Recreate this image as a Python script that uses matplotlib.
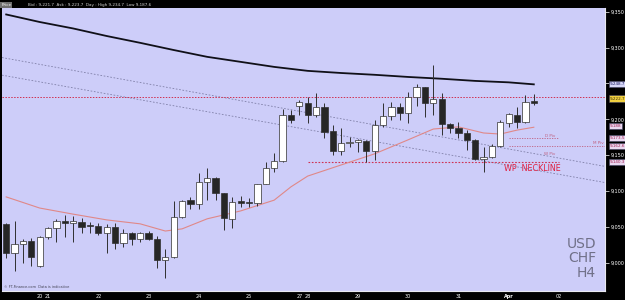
#!/usr/bin/env python3

import matplotlib
matplotlib.use("Agg")
from matplotlib import pyplot as plt
from matplotlib import ticker
from matplotlib.transforms import blended_transform_factory

# H4 candles, USD/CHF (price shown x10000)
opens = [9054, 9014, 9026.5, 9030.5, 8996, 9036, 9048.5, 9058.5, 9055.5, 9057,
         9052.5, 9051.5, 9042, 9050, 9028, 9042, 9033.5, 9042, 9033.5, 9004,
         9008.5, 9064, 9087.5, 9082, 9113, 9118.5, 9097.5, 9061.5, 9086.5, 9085,
         9083.5, 9110, 9132.5, 9142, 9206, 9218.5, 9223, 9206, 9217.5, 9184,
         9156, 9167, 9168.5, 9170, 9156, 9192, 9204.5, 9217.5, 9209, 9231,
         9245, 9223, 9228.5, 9193.5, 9188, 9181, 9171.5, 9145, 9147.5, 9163,
         9195, 9206, 9196.5, 9225.5]
highs = [9056, 9058.5, 9033.5, 9035, 9037.5, 9050, 9061.5, 9067, 9065.5, 9062.5,
         9057, 9055.5, 9054.5, 9055.5, 9047.5, 9043, 9043, 9044.5, 9037.5, 9019.5,
         9086.5, 9087.5, 9092, 9125.5, 9132.5, 9120, 9097.5, 9092, 9093.5, 9090,
         9110, 9140.5, 9153, 9214.5, 9213, 9227, 9231, 9237, 9223, 9192,
         9188, 9175.5, 9172.5, 9171.5, 9199, 9223, 9224, 9223, 9238, 9249.5,
         9245.5, 9275.5, 9237, 9195, 9196.5, 9185, 9172.5, 9161.5, 9165.5, 9199,
         9209, 9217.5, 9234, 9234.7]
lows = [9007, 8989, 9000, 8996, 8994.5, 9033.5, 9029, 9036, 9029, 9042,
        9042, 9039, 9014, 9019.5, 9022.5, 9025, 9029, 9032, 8993, 8979,
        9007, 9062.5, 9075, 9075, 9087.5, 9087.5, 9046, 9048.5, 9078, 9078.5,
        9079.5, 9110, 9126.5, 9140.5, 9195, 9206, 9195, 9203.5, 9174, 9150.5,
        9150.5, 9161.5, 9154.5, 9140.5, 9143.5, 9189.5, 9199, 9199, 9195, 9218.5,
        9203.5, 9206, 9178.5, 9181, 9174, 9157.5, 9143.5, 9126.5, 9146, 9161.5,
        9189.5, 9188, 9195, 9220]
closes = [9014, 9026.5, 9030.5, 9008.5, 9036, 9048.5, 9058.5, 9055.5, 9058.5, 9050,
          9051.5, 9042, 9050, 9028, 9042, 9033.5, 9042, 9033.5, 9004, 9008.5,
          9064, 9086.5, 9082, 9113, 9118.5, 9097.5, 9062.5, 9085, 9083.5, 9083.5,
          9110, 9132.5, 9142, 9206, 9199, 9223.5, 9206, 9217.5, 9182.5, 9156,
          9167, 9168.5, 9171.5, 9156, 9192, 9204.5, 9217.5, 9209, 9231, 9245,
          9223, 9228.5, 9193.5, 9188, 9181, 9171.5, 9145, 9147.5, 9163, 9196.5,
          9207.5, 9196.5, 9224, 9222.7]

# moving averages, sampled at candle indices
ma200_idx = [0, 4, 8, 12, 16, 20, 24, 28, 32, 36, 40, 44, 48, 52, 56, 60, 63]
ma200_val = [9346, 9335.5, 9326.5, 9316, 9306.5, 9296.5, 9287, 9280, 9273, 9267.5,
             9264.5, 9262, 9259, 9256.5, 9253.5, 9251.5, 9248.7]
ma20_idx = [0, 4, 8, 12, 16, 19, 21, 24, 28, 32, 34, 36, 40, 44, 48, 51, 54, 57, 59, 61, 63]
ma20_val = [9092, 9076.5, 9068, 9060, 9054.5, 9044.5, 9047.5, 9061.5, 9072.5, 9087.5,
            9106, 9121, 9136.5, 9152, 9171.5, 9186.5, 9189.5, 9181, 9179.5, 9185, 9189]

# trend channel (start/end index, price)
chan_x = [-0.5, 71.5]
chan_upper = [9286, 9134.5]
chan_lower = [9261.5, 9112]

resist_level = 9230.5
neckline = 9140.5
d_piv = 9173.5
m_piv = 9162.6

xtick_pos = [4, 5, 11, 17, 23, 29, 35, 36, 42, 48, 54, 60, 66]
xtick_lab = ["20", "21", "22", "23", "24", "25", "27", "28", "29", "30", "31", "Apr", "02"]

price_boxes = [(9248.7, "9,248.7", "#1a1a60", "#d8d8f8"),
               (9229.0, "9,222.7", "#3a2a00", "#f0d040"),
               (9191.0, "9,188", "#a02050", "#ead8f0"),
               (9173.5, "9,173.5", "#a02050", "#ead8f0"),
               (9162.6, "9,162.6", "#a02050", "#ead8f0"),
               (9140.5, "9,140.3", "#a02050", "#ead8f0")]

BG = "#cdcdf9"

fig = plt.figure(figsize=(6.25, 3), dpi=100, facecolor="black")
ax = fig.add_axes([2 / 625, 9 / 300, 603 / 625, 283 / 300])
ax.set_facecolor(BG)

n = len(opens)
idx = list(range(n))

# channel + levels
ax.plot(chan_x, chan_upper, color="#8080a8", lw=0.6, ls=(0, (2, 2)))
ax.plot(chan_x, chan_lower, color="#8080a8", lw=0.6, ls=(0, (2, 2)))
ax.axhline(resist_level, color="#d03050", lw=0.7, ls=(0, (1.5, 1.5)))
ax.plot([36, 66], [neckline, neckline], color="#d03050", lw=0.8, ls=(0, (1.5, 1.5)))
ax.plot([60, 66], [d_piv, d_piv], color="#c06080", lw=0.6, ls=(0, (1.5, 1.5)))
ax.plot([60, 72], [m_piv, m_piv], color="#c06080", lw=0.6, ls=(0, (1.5, 1.5)))

# moving averages
ax.plot(ma200_idx, ma200_val, color="#101018", lw=1.3)
ax.plot(ma20_idx, ma20_val, color="#e08888", lw=0.8)

# candles
for i in idx:
    o, h, l, c = opens[i], highs[i], lows[i], closes[i]
    ax.vlines(i, l, h, color="#303030", lw=0.7, zorder=3)
    body_bot = min(o, c)
    body_h = max(abs(c - o), 1.2)
    col = "white" if c > o else "#262626"
    ax.bar(i, body_h, bottom=body_bot, width=0.75, color=col,
           edgecolor="#303030", linewidth=0.5, zorder=4)

ax.text(66.2, neckline - 3, "WP  NECKLINE", color="#e02040", fontsize=5.8,
        ha="right", va="top")
ax.text(65.6, d_piv + 1, "D Piv", color="#c06080", fontsize=3, ha="right", va="bottom")
ax.text(71.4, m_piv + 1, "M Piv", color="#c06080", fontsize=3, ha="right", va="bottom")
ax.text(65.6, neckline + 9, "W Piv", color="#c06080", fontsize=3, ha="right", va="bottom")

ax.set_xlim(-0.5, 71.5)
ax.set_ylim(8961, 9355)

ax.yaxis.tick_right()
ax.set_yticks(range(9000, 9351, 50))
ax.yaxis.set_major_formatter(ticker.FuncFormatter(lambda v, p: f"{int(v):,}"))
ax.tick_params(axis="y", colors="white", labelsize=3.5, length=3, width=0.5, pad=1)
ax.set_xticks(xtick_pos)
ax.set_xticklabels(xtick_lab)
ax.tick_params(axis="x", colors="white", labelsize=3.5, length=0, pad=2)
ax.get_xticklabels()[xtick_lab.index("Apr")].set_fontweight("bold")

for s in ["top", "left"]:
    ax.spines[s].set_visible(False)
for s in ["right", "bottom"]:
    ax.spines[s].set_color("#e8e8f0")
    ax.spines[s].set_linewidth(0.8)

trans = blended_transform_factory(ax.transAxes, ax.transData)
for val, lab, tc, fc in price_boxes:
    ax.text(1.008, val, lab, transform=trans, fontsize=3, color=tc, ha="left", va="center",
            bbox=dict(boxstyle="square,pad=0.25", fc=fc, ec="#404060", lw=0.4), clip_on=False)

ax.text(0.985, 0.04, "USD\nCHF\nH4", transform=ax.transAxes, color="#707088",
        fontsize=10, ha="right", va="bottom", linespacing=1.05)
ax.text(0.003, 0.008, "\u00a9 FT-Finance.com  Data is indicative", transform=ax.transAxes,
        color="#404050", fontsize=2.5, ha="left", va="bottom")

# top info strip
fig.text(0.002, 0.983, "Price", color="white", fontsize=3, ha="left", va="center",
         bbox=dict(boxstyle="square,pad=0.2", fc="#707070", ec="none"))
fig.text(0.045, 0.983, "Bid : 9,221.7  Ask : 9,223.7  Day : High 9,234.7  Low 9,187.6",
         color="#d0d0d0", fontsize=3, ha="left", va="center")

plt.savefig("out.png", dpi=100, facecolor=fig.get_facecolor())
